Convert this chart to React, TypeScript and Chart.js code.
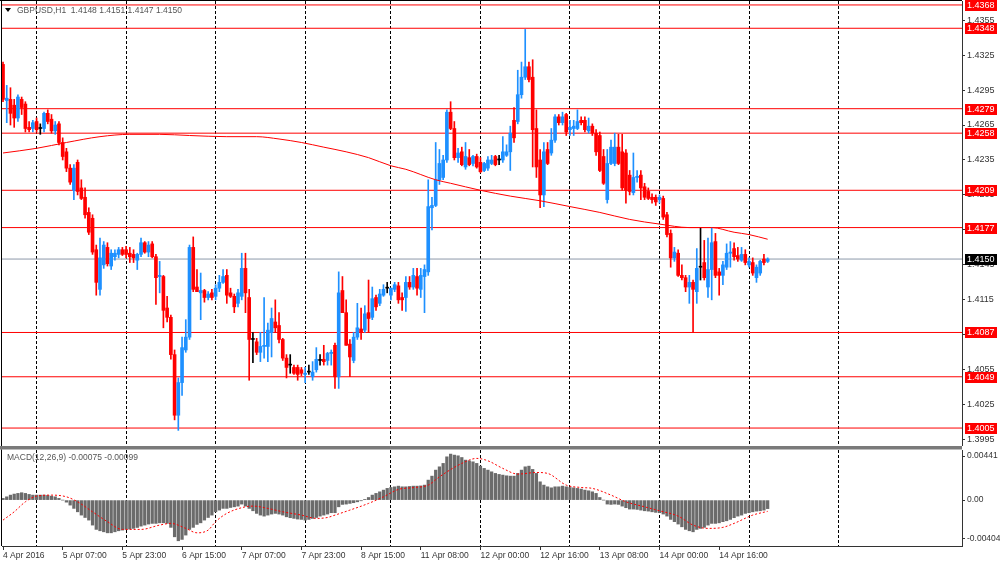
import React, { useEffect, useRef } from 'react';
import { Chart, registerables } from 'chart.js';

Chart.register(...registerables);

// ---------- DATA ----------
const OPEN = [
  1.4317, 1.4286, 1.4287, 1.4282, 1.4271, 1.4287, 1.4283, 1.4263, 1.4262, 1.4268,
  1.4262, 1.4262, 1.4275, 1.4270, 1.4260, 1.4266, 1.4250, 1.4242, 1.4228, 1.4209,
  1.4233, 1.4211, 1.4203, 1.4190, 1.4185, 1.4158, 1.4124, 1.4145, 1.4160, 1.4144,
  1.4152, 1.4154, 1.4158, 1.4158, 1.4155, 1.4154, 1.4149, 1.4154, 1.4164, 1.4156,
  1.4163, 1.4152, 1.4135, 1.4135, 1.4108, 1.4100, 1.4068, 1.4016, 1.4044, 1.4072,
  1.4083, 1.4160, 1.4126, 1.4121, 1.4123, 1.4117, 1.4121, 1.4118, 1.4125, 1.4130,
  1.4136, 1.4121, 1.4118, 1.4112, 1.4118, 1.4142, 1.4117, 1.4081, 1.4079, 1.4070,
  1.4075, 1.4075, 1.4087, 1.4096, 1.4093, 1.4081, 1.4065, 1.4059, 1.4057, 1.4057,
  1.4055, 1.4051, 1.4053, 1.4049, 1.4055, 1.4063, 1.4064, 1.4063, 1.4069, 1.4076,
  1.4049, 1.4123, 1.4104, 1.4077, 1.4063, 1.4083, 1.4090, 1.4089, 1.4104, 1.4100,
  1.4117, 1.4112, 1.4119, 1.4125, 1.4119, 1.4124, 1.4127, 1.4117, 1.4117, 1.4130,
  1.4126, 1.4135, 1.4124, 1.4135, 1.4139, 1.4194, 1.4196, 1.4218, 1.4220, 1.4235,
  1.4276, 1.4262, 1.4237, 1.4242, 1.4229, 1.4237, 1.4232, 1.4238, 1.4233, 1.4226,
  1.4228, 1.4232, 1.4238, 1.4235, 1.4235, 1.4239, 1.4242, 1.4269, 1.4268, 1.4291,
  1.4306, 1.4315, 1.4306, 1.4262, 1.4235, 1.4205, 1.4244, 1.4241, 1.4252, 1.4272,
  1.4267, 1.4274, 1.4261, 1.4262, 1.4262, 1.4269, 1.4269, 1.4260, 1.4264, 1.4258,
  1.4256, 1.4238, 1.4201, 1.4232, 1.4232, 1.4246, 1.4242, 1.4241, 1.4222, 1.4207,
  1.4220, 1.4222, 1.4212, 1.4208, 1.4203, 1.4203, 1.4201, 1.4202, 1.4188, 1.4172,
  1.4151, 1.4155, 1.4136, 1.4134, 1.4126, 1.4130, 1.4122, 1.4143, 1.4147, 1.4126,
  1.4141, 1.4165, 1.4139, 1.4136, 1.4143, 1.4155, 1.4159, 1.4153, 1.4149, 1.4154,
  1.4145, 1.4147, 1.4134, 1.4138, 1.4150, 1.4148,
];
const HIGH = [
  1.4319, 1.4299, 1.4297, 1.4287, 1.4291, 1.4289, 1.4285, 1.4268, 1.4269, 1.4271,
  1.4266, 1.4276, 1.4278, 1.4274, 1.4268, 1.4268, 1.4254, 1.4245, 1.4231, 1.4231,
  1.4235, 1.4218, 1.4211, 1.4194, 1.4188, 1.4162, 1.4168, 1.4165, 1.4164, 1.4158,
  1.4158, 1.4160, 1.4160, 1.4161, 1.4160, 1.4158, 1.4155, 1.4168, 1.4165, 1.4165,
  1.4165, 1.4154, 1.4148, 1.4136, 1.4118, 1.4102, 1.4072, 1.4048, 1.4083, 1.4098,
  1.4162, 1.4169, 1.4141, 1.4138, 1.4124, 1.4122, 1.4124, 1.4128, 1.4136, 1.4141,
  1.4141, 1.4125, 1.4120, 1.4124, 1.4155, 1.4155, 1.4124, 1.4087, 1.4082, 1.4087,
  1.4117, 1.4095, 1.4108, 1.4115, 1.4104, 1.4082, 1.4068, 1.4068, 1.4059, 1.4059,
  1.4057, 1.4057, 1.4059, 1.4062, 1.4074, 1.4068, 1.4076, 1.4070, 1.4072, 1.4078,
  1.4139, 1.4135, 1.4115, 1.4081, 1.4087, 1.4112, 1.4108, 1.4110, 1.4132, 1.4126,
  1.4119, 1.4124, 1.4128, 1.4130, 1.4125, 1.4130, 1.4130, 1.4121, 1.4135, 1.4135,
  1.4142, 1.4142, 1.4142, 1.4145, 1.4218, 1.4203, 1.4250, 1.4244, 1.4239, 1.4278,
  1.4285, 1.4268, 1.4245, 1.4246, 1.4250, 1.4244, 1.4239, 1.4240, 1.4237, 1.4233,
  1.4238, 1.4239, 1.4239, 1.4239, 1.4255, 1.4248, 1.4264, 1.4280, 1.4312, 1.4319,
  1.4347, 1.4319, 1.4321, 1.4278, 1.4244, 1.4250, 1.4250, 1.4262, 1.4274, 1.4274,
  1.4276, 1.4275, 1.4269, 1.4269, 1.4278, 1.4272, 1.4272, 1.4271, 1.4266, 1.4261,
  1.4259, 1.4244, 1.4244, 1.4252, 1.4258, 1.4257, 1.4257, 1.4244, 1.4226, 1.4241,
  1.4226, 1.4226, 1.4215, 1.4211, 1.4206, 1.4205, 1.4205, 1.4204, 1.4190, 1.4175,
  1.4160, 1.4158, 1.4145, 1.4136, 1.4136, 1.4132, 1.4159, 1.4177, 1.4166, 1.4168,
  1.4177, 1.4172, 1.4142, 1.4148, 1.4163, 1.4165, 1.4164, 1.4160, 1.4160, 1.4158,
  1.4151, 1.4151, 1.4145, 1.4149, 1.4154, 1.4151,
];
const LOW = [
  1.4285, 1.4267, 1.4265, 1.4263, 1.4268, 1.4274, 1.4259, 1.4259, 1.4259, 1.4259,
  1.4257, 1.4259, 1.4266, 1.4258, 1.4257, 1.4248, 1.4235, 1.4225, 1.4214, 1.4201,
  1.4205, 1.4201, 1.4185, 1.4171, 1.4154, 1.4119, 1.4119, 1.4142, 1.4144, 1.4141,
  1.4149, 1.4151, 1.4153, 1.4151, 1.4147, 1.4147, 1.4141, 1.4152, 1.4155, 1.4152,
  1.4151, 1.4111, 1.4121, 1.4091, 1.4096, 1.4064, 1.4012, 1.4003, 1.4033, 1.4070,
  1.4081, 1.4122, 1.4122, 1.4098, 1.4113, 1.4115, 1.4115, 1.4115, 1.4122, 1.4129,
  1.4112, 1.4117, 1.4104, 1.4109, 1.4115, 1.4104, 1.4046, 1.4061, 1.4068, 1.4062,
  1.4065, 1.4062, 1.4066, 1.4087, 1.4078, 1.4063, 1.4048, 1.4052, 1.4051, 1.4046,
  1.4050, 1.4044, 1.4051, 1.4046, 1.4053, 1.4059, 1.4059, 1.4059, 1.4059, 1.4039,
  1.4039, 1.4104, 1.4076, 1.4049, 1.4061, 1.4081, 1.4081, 1.4087, 1.4087, 1.4098,
  1.4106, 1.4110, 1.4118, 1.4121, 1.4115, 1.4122, 1.4112, 1.4106, 1.4105, 1.4124,
  1.4124, 1.4119, 1.4117, 1.4104, 1.4136, 1.4175, 1.4195, 1.4214, 1.4218, 1.4233,
  1.4261, 1.4235, 1.4233, 1.4230, 1.4227, 1.4230, 1.4230, 1.4228, 1.4224, 1.4225,
  1.4226, 1.4231, 1.4230, 1.4231, 1.4233, 1.4238, 1.4226, 1.4250, 1.4266, 1.4288,
  1.4304, 1.4302, 1.4229, 1.4220, 1.4194, 1.4195, 1.4231, 1.4239, 1.4250, 1.4265,
  1.4265, 1.4256, 1.4256, 1.4256, 1.4261, 1.4265, 1.4259, 1.4258, 1.4256, 1.4239,
  1.4225, 1.4214, 1.4198, 1.4231, 1.4230, 1.4231, 1.4209, 1.4198, 1.4205, 1.4205,
  1.4216, 1.4201, 1.4201, 1.4201, 1.4198, 1.4196, 1.4198, 1.4184, 1.4169, 1.4143,
  1.4148, 1.4135, 1.4132, 1.4122, 1.4112, 1.4087, 1.4112, 1.4132, 1.4132, 1.4117,
  1.4115, 1.4134, 1.4119, 1.4128, 1.4141, 1.4143, 1.4149, 1.4148, 1.4148, 1.4145,
  1.4143, 1.4136, 1.4130, 1.4136, 1.4145, 1.4147,
];
const CLOSE = [
  1.4287, 1.4288, 1.4275, 1.4271, 1.4289, 1.4280, 1.4262, 1.4261, 1.4267, 1.4261,
  1.4262, 1.4275, 1.4268, 1.4260, 1.4265, 1.4250, 1.4238, 1.4228, 1.4216, 1.4228,
  1.4208, 1.4202, 1.4188, 1.4173, 1.4156, 1.4130, 1.4151, 1.4162, 1.4146, 1.4155,
  1.4155, 1.4158, 1.4154, 1.4154, 1.4152, 1.4151, 1.4154, 1.4164, 1.4156, 1.4162,
  1.4152, 1.4134, 1.4136, 1.4106, 1.4100, 1.4068, 1.4016, 1.4044, 1.4074, 1.4083,
  1.4160, 1.4124, 1.4122, 1.4123, 1.4117, 1.4120, 1.4117, 1.4125, 1.4130, 1.4135,
  1.4119, 1.4118, 1.4109, 1.4121, 1.4142, 1.4121, 1.4081, 1.4081, 1.4070, 1.4075,
  1.4076, 1.4089, 1.4099, 1.4091, 1.4081, 1.4065, 1.4057, 1.4059, 1.4052, 1.4051,
  1.4052, 1.4052, 1.4053, 1.4053, 1.4064, 1.4063, 1.4062, 1.4069, 1.4070, 1.4049,
  1.4121, 1.4104, 1.4076, 1.4066, 1.4083, 1.4091, 1.4087, 1.4103, 1.4099, 1.4116,
  1.4109, 1.4120, 1.4124, 1.4125, 1.4125, 1.4128, 1.4115, 1.4115, 1.4130, 1.4126,
  1.4136, 1.4125, 1.4136, 1.4141, 1.4195, 1.4196, 1.4218, 1.4232, 1.4235, 1.4276,
  1.4262, 1.4237, 1.4241, 1.4231, 1.4238, 1.4231, 1.4238, 1.4229, 1.4225, 1.4232,
  1.4235, 1.4235, 1.4231, 1.4235, 1.4242, 1.4242, 1.4258, 1.4254, 1.4291, 1.4306,
  1.4315, 1.4304, 1.4261, 1.4229, 1.4205, 1.4242, 1.4232, 1.4252, 1.4272, 1.4267,
  1.4272, 1.4259, 1.4263, 1.4264, 1.4268, 1.4267, 1.4261, 1.4264, 1.4258, 1.4242,
  1.4226, 1.4215, 1.4232, 1.4246, 1.4246, 1.4232, 1.4211, 1.4209, 1.4208, 1.4220,
  1.4221, 1.4211, 1.4203, 1.4202, 1.4201, 1.4199, 1.4203, 1.4186, 1.4171, 1.4151,
  1.4156, 1.4136, 1.4134, 1.4126, 1.4130, 1.4124, 1.4142, 1.4143, 1.4134, 1.4141,
  1.4164, 1.4136, 1.4136, 1.4145, 1.4155, 1.4156, 1.4152, 1.4150, 1.4154, 1.4147,
  1.4148, 1.4138, 1.4143, 1.4148, 1.4147, 1.4150,
];

// moving average read at selected bars
const MA_BARS = [0, 9, 17, 26, 34, 42, 50, 60, 68, 74, 80, 86, 92, 98, 104, 108, 116, 120, 128, 136, 144, 152, 160, 168, 176, 184, 190, 196, 200, 205];
const MA_VALUES = [1.4241, 1.4245, 1.4250, 1.4255, 1.4257, 1.4257, 1.4256, 1.4255, 1.4255, 1.4253, 1.4250, 1.4246, 1.4242, 1.4237, 1.4230, 1.4227, 1.4218, 1.4215, 1.4209, 1.4204, 1.4200, 1.4195, 1.4190, 1.4184, 1.4180, 1.4177, 1.4177, 1.4173, 1.4171, 1.4167];

const MACD_HIST = [
  0.00015, 0.00029, 0.00044, 0.00053, 0.00059, 0.00065, 0.00059, 0.00050, 0.00044, 0.00044,
  0.00044, 0.00044, 0.00041, 0.00035, 0.00029, 0.00015, 0.00000, -0.00018, -0.00044, -0.00073,
  -0.00103, -0.00132, -0.00153, -0.00176, -0.00220, -0.00258, -0.00270, -0.00279, -0.00288, -0.00288,
  -0.00279, -0.00270, -0.00264, -0.00258, -0.00255, -0.00249, -0.00241, -0.00229, -0.00220, -0.00211,
  -0.00205, -0.00205, -0.00200, -0.00200, -0.00205, -0.00240, -0.00323, -0.00358, -0.00346, -0.00308,
  -0.00258, -0.00240, -0.00214, -0.00200, -0.00176, -0.00153, -0.00132, -0.00103, -0.00088, -0.00073,
  -0.00073, -0.00065, -0.00059, -0.00053, -0.00035, -0.00053, -0.00073, -0.00094, -0.00117, -0.00132,
  -0.00141, -0.00132, -0.00123, -0.00117, -0.00123, -0.00132, -0.00147, -0.00155, -0.00161, -0.00167,
  -0.00170, -0.00176, -0.00170, -0.00161, -0.00153, -0.00141, -0.00132, -0.00123, -0.00111, -0.00111,
  -0.00059, -0.00038, -0.00035, -0.00029, -0.00023, -0.00015, -0.00006, 0.00006, 0.00023, 0.00044,
  0.00059, 0.00073, 0.00088, 0.00103, 0.00111, 0.00117, 0.00123, 0.00117, 0.00117, 0.00120,
  0.00123, 0.00123, 0.00125, 0.00132, 0.00176, 0.00211, 0.00264, 0.00293, 0.00323, 0.00381,
  0.00405, 0.00396, 0.00390, 0.00375, 0.00352, 0.00346, 0.00337, 0.00323, 0.00299, 0.00279,
  0.00264, 0.00249, 0.00235, 0.00226, 0.00220, 0.00214, 0.00211, 0.00211, 0.00235, 0.00264,
  0.00293, 0.00299, 0.00270, 0.00235, 0.00161, 0.00132, 0.00117, 0.00108, 0.00117, 0.00117,
  0.00123, 0.00117, 0.00111, 0.00108, 0.00103, 0.00097, 0.00088, 0.00082, 0.00073, 0.00059,
  0.00023, 0.00000, -0.00035, -0.00038, -0.00035, -0.00038, -0.00053, -0.00067, -0.00079, -0.00079,
  -0.00082, -0.00088, -0.00094, -0.00097, -0.00103, -0.00108, -0.00111, -0.00123, -0.00141, -0.00170,
  -0.00190, -0.00211, -0.00235, -0.00258, -0.00270, -0.00279, -0.00258, -0.00249, -0.00240, -0.00220,
  -0.00205, -0.00205, -0.00200, -0.00190, -0.00182, -0.00170, -0.00155, -0.00141, -0.00132, -0.00117,
  -0.00111, -0.00103, -0.00097, -0.00094, -0.00088, -0.00075,
];

// MACD signal line read at selected bars
const SIGNAL_BARS = [0, 3, 6, 9, 13, 17, 20, 24, 28, 32, 37, 42, 45, 49, 52, 55, 57, 60, 65, 67, 71, 75, 80, 84, 87, 89, 93, 98, 102, 106, 110, 114, 117, 123, 127, 130, 134, 138, 143, 146, 151, 155, 158, 163, 167, 172, 176, 181, 185, 189, 193, 196, 201, 205];
const SIGNAL_VALUES = [-0.00176, -0.00103, -0.00015, 0.00035, 0.00044, 0.00029, -0.00015, -0.00103, -0.0019, -0.00258, -0.00258, -0.0022, -0.00205, -0.00249, -0.00288, -0.00264, -0.0019, -0.00117, -0.00059, -0.00053, -0.00073, -0.00103, -0.00132, -0.00161, -0.00153, -0.00132, -0.00088, -0.00029, 0.00029, 0.00094, 0.0011, 0.00132, 0.00205, 0.00323, 0.00367, 0.00346, 0.00279, 0.00229, 0.00243, 0.00235, 0.00132, 0.00111, 0.00103, 0.00044, -0.00015, -0.00059, -0.00094, -0.00141, -0.0022, -0.00249, -0.0024, -0.00205, -0.00132, -0.00099];

const LEVELS = [1.4368, 1.4348, 1.4279, 1.4258, 1.4209, 1.4177, 1.4087, 1.4049, 1.4005];
const BID = 1.415;
const PRICE_TICKS = [1.3995, 1.4025, 1.4055, 1.4085, 1.4115, 1.4145, 1.4175, 1.4205, 1.4235, 1.4265, 1.4295, 1.4325, 1.4355];
const DAY_BARS = [9, 33, 57, 81, 104, 128, 152, 176, 200, 224];
const LABEL_BARS = [0, 16, 32, 48, 64, 80, 96, 112, 128, 144, 160, 176, 192];
const TIME_LABELS = ['4 Apr 2016', '5 Apr 07:00', '5 Apr 23:00', '6 Apr 15:00', '7 Apr 07:00', '7 Apr 23:00', '8 Apr 15:00', '11 Apr 08:00', '12 Apr 00:00', '12 Apr 16:00', '13 Apr 08:00', '14 Apr 00:00', '14 Apr 16:00'];
const MACD_TICK_LABELS = ['0.00441', '0.00', '-0.00404'];
const HEADER = 'GBPUSD,H1  1.4148 1.4151 1.4147 1.4150';
const MACD_HEADER = 'MACD(12,26,9) -0.00075 -0.00099';

// ---------- LAYOUT / STYLE ----------
const X_MIN = -0.27;
const X_MAX = 257.1;
const PRICE_MIN = 1.39896;
const PRICE_MAX = 1.43714;
const MACD_MIN = -0.00404;
const MACD_MAX = 0.00441;
const MACD_TICK_POS = [0.00388, 0, -0.00342];
const BULL = '#1e90ff';
const BEAR = '#ff0000';
const DOJI = '#000000';
const FONT = 'Liberation Sans';
const AXIS_W = 38;

function candleColor(i: number) {
  if (CLOSE[i] > OPEN[i]) return BULL;
  if (CLOSE[i] < OPEN[i]) return BEAR;
  return DOJI;
}

export default function App() {
  const priceRef = useRef<HTMLCanvasElement>(null);
  const macdRef = useRef<HTMLCanvasElement>(null);

  useEffect(() => {
    Chart.defaults.font.family = FONT;
    const idx = OPEN.map((_, i) => i);
    const colors = idx.map(candleColor);

    const levelSets: any[] = LEVELS.map((L) => ({
      type: 'line',
      data: [{ x: X_MIN, y: L }, { x: X_MAX, y: L }],
      borderColor: '#ff0000',
      borderWidth: 1,
      pointRadius: 0,
      order: 4,
    }));

    const priceChart = new Chart(priceRef.current as HTMLCanvasElement, {
      type: 'bar',
      data: {
        datasets: [
          {
            type: 'line',
            data: MA_BARS.map((b, k) => ({ x: b, y: MA_VALUES[k] })),
            borderColor: '#ff0000',
            borderWidth: 1,
            pointRadius: 0,
            cubicInterpolationMode: 'monotone',
            order: 0,
          } as any,
          {
            type: 'bar',
            data: idx.map((i) => ({ x: i, y: [OPEN[i], CLOSE[i]] })),
            backgroundColor: colors,
            barThickness: 3,
            minBarLength: 1,
            grouped: false,
            borderWidth: 0,
            order: 1,
          } as any,
          {
            type: 'bar',
            data: idx.map((i) => ({ x: i, y: [LOW[i], HIGH[i]] })),
            backgroundColor: colors,
            barThickness: 1,
            grouped: false,
            borderWidth: 0,
            order: 2,
          } as any,
          {
            type: 'line',
            data: [{ x: X_MIN, y: BID }, { x: X_MAX, y: BID }],
            borderColor: '#8d99aa',
            borderWidth: 1,
            pointRadius: 0,
            order: 3,
          } as any,
          ...levelSets,
        ],
      },
      options: {
        animation: false,
        responsive: false,
        devicePixelRatio: 1,
        events: [],
        layout: { padding: { left: 2, top: 1, right: 0, bottom: 0 } },
        plugins: { legend: { display: false }, tooltip: { enabled: false } },
        scales: {
          x: {
            type: 'linear',
            min: X_MIN,
            max: X_MAX,
            offset: false,
            grid: { offset: false, color: '#000', lineWidth: 1, drawTicks: false },
            border: { display: false, dash: [3, 2] },
            ticks: { display: false },
            afterBuildTicks: (s: any) => { s.ticks = DAY_BARS.map((v) => ({ value: v })); },
            afterFit: (s: any) => { s.height = 0; s.paddingLeft = 0; s.paddingRight = 0; },
          },
          y: {
            type: 'linear',
            position: 'right',
            min: PRICE_MIN,
            max: PRICE_MAX,
            beginAtZero: false,
            grid: { drawOnChartArea: false, tickLength: 3, color: '#333' },
            border: { display: true, color: '#333', width: 1 },
            ticks: {
              autoSkip: false,
              padding: 2,
              color: '#333',
              font: { family: FONT, size: 9 },
              callback: (v: any) => Number(v).toFixed(4),
            },
            afterBuildTicks: (s: any) => { s.ticks = PRICE_TICKS.map((v) => ({ value: v })); },
            afterFit: (s: any) => { s.width = AXIS_W; s.paddingTop = 0; s.paddingBottom = 0; },
          },
        },
      } as any,
      plugins: [
        {
          id: 'priceDecor',
          afterDraw(chart: any) {
            const ctx = chart.ctx;
            const ys = chart.scales.y;
            const area = chart.chartArea;
            ctx.save();
            // frame
            ctx.strokeStyle = '#000';
            ctx.lineWidth = 1;
            ctx.beginPath();
            ctx.moveTo(1.5, 0);
            ctx.lineTo(1.5, area.bottom);
            ctx.moveTo(0, 0.5);
            ctx.lineTo(area.right, 0.5);
            ctx.stroke();
            // level labels
            ctx.font = `9px "${FONT}"`;
            ctx.textBaseline = 'middle';
            ctx.textAlign = 'left';
            const box = (v: number, bg: string) => {
              const y = Math.round(ys.getPixelForValue(v));
              ctx.fillStyle = bg;
              ctx.fillRect(area.right + 3, y - 5, 32, 11);
              ctx.fillStyle = '#fff';
              ctx.fillText(v.toFixed(4), area.right + 5, y + 0.5);
            };
            LEVELS.forEach((L) => box(L, '#ff0000'));
            box(BID, '#000');
            // header
            ctx.fillStyle = '#000';
            ctx.beginPath();
            ctx.moveTo(5, 8);
            ctx.lineTo(11, 8);
            ctx.lineTo(8, 12);
            ctx.closePath();
            ctx.fill();
            ctx.fillStyle = '#555';
            ctx.font = `8.5px "${FONT}"`;
            ctx.fillText(HEADER, 17, 10.5);
            ctx.restore();
          },
        },
      ],
    });

    const macdChart = new Chart(macdRef.current as HTMLCanvasElement, {
      type: 'bar',
      data: {
        datasets: [
          {
            type: 'line',
            data: SIGNAL_BARS.map((b, k) => ({ x: b, y: SIGNAL_VALUES[k] })),
            borderColor: '#ff0000',
            borderWidth: 1,
            borderDash: [2, 2],
            pointRadius: 0,
            cubicInterpolationMode: 'monotone',
            order: 0,
          } as any,
          {
            type: 'bar',
            data: MACD_HIST.map((v, i) => ({ x: i, y: v })),
            backgroundColor: '#6b6b6b',
            barThickness: 2.6,
            grouped: false,
            borderWidth: 0,
            order: 1,
          } as any,
        ],
      },
      options: {
        animation: false,
        responsive: false,
        devicePixelRatio: 1,
        events: [],
        layout: { padding: { left: 2, top: 4, right: 0, bottom: 0 } },
        plugins: { legend: { display: false }, tooltip: { enabled: false } },
        scales: {
          x: {
            type: 'linear',
            position: 'bottom',
            min: X_MIN,
            max: X_MAX,
            offset: false,
            grid: { offset: false, drawOnChartArea: false, tickLength: 4, color: '#333' },
            border: { display: true, color: '#333', width: 1 },
            ticks: {
              autoSkip: false,
              maxRotation: 0,
              minRotation: 0,
              align: 'start',
              padding: 1,
              color: '#333',
              font: { family: FONT, size: 8.5 },
              callback: (_v: any, i: number) => TIME_LABELS[i],
            },
            afterBuildTicks: (s: any) => { s.ticks = LABEL_BARS.map((v) => ({ value: v })); },
            afterFit: (s: any) => { s.height = 19; s.paddingLeft = 0; s.paddingRight = 0; },
          },
          xg: {
            type: 'linear',
            axis: 'x',
            position: 'bottom',
            min: X_MIN,
            max: X_MAX,
            offset: false,
            grid: { offset: false, color: '#000', lineWidth: 1, drawTicks: false },
            border: { display: false, dash: [3, 2] },
            ticks: { display: false },
            afterBuildTicks: (s: any) => { s.ticks = DAY_BARS.map((v) => ({ value: v })); },
            afterFit: (s: any) => { s.height = 0; s.paddingLeft = 0; s.paddingRight = 0; },
          },
          y: {
            type: 'linear',
            position: 'right',
            min: MACD_MIN,
            max: MACD_MAX,
            beginAtZero: false,
            grid: { drawOnChartArea: false, tickLength: 3, color: '#333' },
            border: { display: true, color: '#333', width: 1 },
            ticks: {
              autoSkip: false,
              padding: 2,
              color: '#333',
              font: { family: FONT, size: 8.5 },
              callback: (_v: any, i: number) => MACD_TICK_LABELS[i],
            },
            afterBuildTicks: (s: any) => { s.ticks = MACD_TICK_POS.map((v) => ({ value: v })); },
            afterFit: (s: any) => { s.width = AXIS_W; s.paddingTop = 0; s.paddingBottom = 0; },
          },
        },
      } as any,
      plugins: [
        {
          id: 'macdDecor',
          beforeDraw(chart: any) {
            const ctx = chart.ctx;
            ctx.save();
            ctx.fillStyle = '#7a7a7a';
            ctx.fillRect(0, 0, chart.chartArea.right, 3.5);
            ctx.restore();
          },
          afterDraw(chart: any) {
            const ctx = chart.ctx;
            const area = chart.chartArea;
            ctx.save();
            ctx.strokeStyle = '#000';
            ctx.lineWidth = 1;
            ctx.beginPath();
            ctx.moveTo(1.5, 3.5);
            ctx.lineTo(1.5, area.bottom);
            ctx.stroke();
            ctx.fillStyle = '#555';
            ctx.font = `8.5px "${FONT}"`;
            ctx.textBaseline = 'middle';
            ctx.fillText(MACD_HEADER, 7, 12);
            ctx.restore();
          },
        },
      ],
    });

    return () => {
      priceChart.destroy();
      macdChart.destroy();
    };
  }, []);

  return (
    <div style={{ position: 'absolute', left: 0, top: 0, width: 1000, height: 565, background: '#fff', overflow: 'hidden' }}>
      <canvas ref={priceRef} width={1000} height={446} style={{ position: 'absolute', left: 0, top: 0, width: 1000, height: 446 }} />
      <canvas ref={macdRef} width={1000} height={119} style={{ position: 'absolute', left: 0, top: 446, width: 1000, height: 119 }} />
    </div>
  );
}
